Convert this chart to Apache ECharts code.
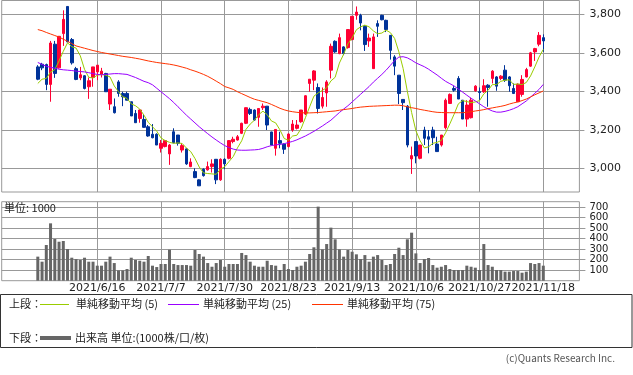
<!DOCTYPE html>
<html><head><meta charset="utf-8">
<script src="https://cdn.jsdelivr.net/npm/echarts/dist/echarts.min.js"></script>
<style>html,body{margin:0;padding:0;background:#fff}#c{width:633px;height:375px}</style>
</head><body><div id="c"></div>
<script>
const dates = ['2021/5/27','2021/5/28','2021/5/31','2021/6/1','2021/6/2','2021/6/3','2021/6/4','2021/6/7','2021/6/8','2021/6/9',
'2021/6/10','2021/6/11','2021/6/14','2021/6/15','2021/6/16','2021/6/17','2021/6/18','2021/6/21','2021/6/22','2021/6/23',
'2021/6/24','2021/6/25','2021/6/28','2021/6/29','2021/6/30','2021/7/1','2021/7/2','2021/7/5','2021/7/6','2021/7/7',
'2021/7/8','2021/7/9','2021/7/12','2021/7/13','2021/7/14','2021/7/15','2021/7/16','2021/7/19','2021/7/20','2021/7/21',
'2021/7/26','2021/7/27','2021/7/28','2021/7/29','2021/7/30','2021/8/2','2021/8/3','2021/8/4','2021/8/5','2021/8/6',
'2021/8/10','2021/8/11','2021/8/12','2021/8/13','2021/8/16','2021/8/17','2021/8/18','2021/8/19','2021/8/20','2021/8/23',
'2021/8/24','2021/8/25','2021/8/26','2021/8/27','2021/8/30','2021/8/31','2021/9/1','2021/9/2','2021/9/3','2021/9/6',
'2021/9/7','2021/9/8','2021/9/9','2021/9/10','2021/9/13','2021/9/14','2021/9/15','2021/9/16','2021/9/17','2021/9/21',
'2021/9/22','2021/9/24','2021/9/27','2021/9/28','2021/9/29','2021/9/30','2021/10/1','2021/10/4','2021/10/5','2021/10/6',
'2021/10/7','2021/10/8','2021/10/11','2021/10/12','2021/10/13','2021/10/14','2021/10/15','2021/10/18','2021/10/19','2021/10/20',
'2021/10/21','2021/10/22','2021/10/25','2021/10/26','2021/10/27','2021/10/28','2021/10/29','2021/11/1','2021/11/2','2021/11/4',
'2021/11/5','2021/11/8','2021/11/9','2021/11/10','2021/11/11','2021/11/12','2021/11/15','2021/11/16','2021/11/17','2021/11/18'];

const open = [3527,3541,3539,3436,3645,3522,3700,3841,3669,3518,
3470,3481,3424,3472,3501,3489,3493,3334,3320,3449,
3389,3389,3346,3285,3259,3254,3216,3177,3177,3104,
3113,3075,3190,3173,3095,3101,3009,2983,2940,2995,
2992,3009,3047,2940,3047,3052,3139,3147,3182,3234,
3306,3303,3265,3315,3323,3189,3104,3144,3126,3113,
3199,3208,3242,3282,3441,3458,3420,3323,3392,3510,
3660,3596,3631,3627,3669,3795,3795,3738,3662,3518,
3752,3795,3769,3691,3579,3484,3358,3323,3049,3139,
3052,3199,3164,3199,3126,3121,3211,3337,3415,3467,
3354,3256,3263,3403,3398,3398,3432,3467,3475,3467,
3510,3475,3415,3346,3384,3475,3531,3605,3645,3679];

const high = [3536,3548,3544,3662,3662,3686,3821,3841,3677,3527,
3527,3484,3472,3527,3536,3522,3496,3411,3363,3458,
3398,3398,3346,3303,3306,3280,3225,3230,3182,3147,
3147,3126,3208,3173,3130,3104,3052,3000,2943,3000,
3035,3047,3047,3052,3052,3147,3164,3173,3237,3316,
3315,3306,3311,3337,3323,3190,3202,3190,3130,3182,
3251,3251,3303,3380,3463,3510,3441,3420,3458,3648,
3665,3700,3634,3721,3790,3841,3803,3743,3700,3700,
3769,3798,3772,3691,3588,3484,3358,3329,3113,3139,
3121,3216,3199,3216,3164,3173,3363,3389,3427,3479,
3354,3354,3367,3432,3420,3463,3437,3510,3479,3484,
3536,3479,3441,3441,3484,3522,3605,3626,3708,3696];

const low = [3458,3510,3406,3346,3470,3518,3636,3655,3539,3458,
3458,3410,3361,3424,3458,3472,3398,3303,3285,3372,
3323,3354,3272,3237,3237,3211,3164,3156,3121,3082,
3109,3018,3130,3118,3082,3018,3006,2949,2909,2957,
2988,2978,2918,2935,2995,3047,3130,3144,3178,3230,
3277,3247,3216,3303,3199,3121,3066,3104,3075,3109,
3190,3202,3237,3277,3398,3406,3285,3311,3320,3467,
3600,3593,3588,3622,3665,3772,3717,3610,3631,3518,
3683,3769,3708,3565,3484,3334,3303,3109,2971,3026,
3047,3121,3078,3121,3087,3113,3202,3334,3398,3360,
3256,3216,3259,3398,3354,3392,3320,3441,3403,3458,
3449,3398,3386,3346,3372,3472,3527,3558,3634,3605];

const close = [3463,3522,3436,3651,3493,3686,3774,3657,3548,3462,
3486,3415,3455,3527,3536,3505,3398,3411,3289,3389,
3372,3354,3272,3237,3303,3213,3168,3159,3121,3130,
3144,3121,3133,3130,3118,3023,3033,2952,2909,2962,
3009,3023,2940,3047,3023,3144,3151,3164,3234,3315,
3285,3251,3311,3323,3225,3121,3202,3130,3099,3178,
3230,3225,3303,3377,3463,3506,3311,3368,3449,3634,
3605,3679,3596,3721,3790,3812,3755,3643,3677,3683,
3738,3772,3721,3613,3531,3389,3341,3121,3066,3064,
3121,3156,3151,3159,3087,3173,3354,3384,3406,3360,
3256,3329,3354,3427,3394,3429,3420,3505,3427,3479,
3458,3429,3389,3437,3462,3513,3600,3622,3691,3662];

const volume = [229,181,340,546,397,371,378,302,219,206,
197,219,181,181,143,143,181,229,168,98,
98,111,219,197,190,181,235,143,130,159,
159,295,159,149,149,149,143,292,254,229,
168,133,168,197,133,159,159,159,264,244,
181,143,133,133,190,149,143,102,159,111,
102,133,143,181,254,318,705,298,349,505,
394,298,229,292,276,251,206,244,181,229,
244,197,149,159,254,314,244,394,457,260,
168,206,216,149,124,133,149,111,102,102,
102,143,133,124,102,349,149,133,102,102,
86,86,92,92,76,86,168,159,168,143];

const ma5 = [3441,3463,3467,3500,3513,3558,3608,3652,3632,3625,
3585,3514,3473,3469,3484,3488,3484,3475,3428,3398,
3372,3363,3335,3325,3308,3276,3239,3216,3193,3158,
3144,3135,3130,3132,3129,3105,3087,3051,3007,2976,
2973,2971,2969,2996,3008,3035,3061,3106,3143,3202,
3230,3250,3279,3297,3279,3246,3236,3200,3155,3146,
3168,3172,3207,3263,3320,3375,3392,3405,3419,3454,
3473,3547,3593,3647,3678,3720,3735,3744,3735,3714,
3699,3703,3718,3705,3675,3605,3519,3399,3290,3196,
3143,3106,3112,3130,3135,3145,3185,3231,3281,3335,
3352,3347,3341,3345,3352,3387,3405,3435,3435,3452,
3458,3460,3436,3438,3435,3446,3480,3527,3578,3618];

const ma25 = [3550,3540,3530,3525,3520,3515,3512,3510,3508,3505,
3503,3501,3497,3492,3488,3486,3488,3490,3492,3492,
3490,3488,3480,3472,3462,3452,3445,3434,3416,3398,
3380,3362,3342,3320,3298,3276,3256,3236,3216,3198,
3180,3163,3147,3132,3118,3108,3100,3095,3094,3094,
3095,3096,3098,3104,3112,3118,3122,3124,3128,3134,
3140,3148,3158,3168,3180,3192,3206,3220,3235,3250,
3270,3290,3308,3325,3345,3365,3385,3405,3425,3448,
3468,3488,3510,3535,3560,3578,3580,3574,3562,3548,
3538,3528,3515,3500,3485,3468,3452,3440,3428,3412,
3396,3380,3364,3350,3335,3320,3308,3298,3292,3292,
3296,3302,3310,3320,3335,3350,3370,3390,3410,3436];

const ma75 = [3721,3715,3706,3698,3690,3682,3671,3660,3648,3636,
3630,3624,3618,3612,3607,3602,3598,3594,3590,3586,
3582,3579,3576,3572,3568,3563,3558,3554,3550,3547,
3544,3541,3537,3532,3526,3520,3512,3505,3497,3488,
3478,3466,3453,3440,3425,3418,3410,3398,3388,3378,
3368,3359,3353,3347,3341,3332,3322,3312,3304,3298,
3294,3291,3289,3288,3288,3289,3290,3292,3294,3296,
3298,3302,3305,3308,3311,3315,3318,3320,3322,3323,
3324,3325,3326,3327,3328,3328,3325,3320,3315,3311,
3306,3302,3298,3294,3291,3290,3289,3289,3289,3289,
3289,3291,3294,3298,3301,3305,3310,3314,3318,3322,
3327,3334,3340,3345,3352,3360,3371,3382,3392,3402];

const labelDates = ['2021/6/16','2021/7/7','2021/7/30','2021/8/23','2021/9/13','2021/10/6','2021/10/27','2021/11/18'];
const priceTicks = [3000,3200,3400,3600,3800];
const volumeTicks = [100,200,300,400,500,600,700];
const maNames = ['単純移動平均 (5)','単純移動平均 (25)','単純移動平均 (75)'];

const PAD_BEFORE = 8, PAD_AFTER = 8;
const C_UP = '#ff0033', C_DOWN = '#003399';
const C_MA5 = '#99cc00', C_MA25 = '#9900ff', C_MA75 = '#ff3300';
const C_VOL = '#666666', C_GRID = '#999999';
const FONT = '"DejaVu Sans","Noto Sans CJK JP",sans-serif';
const JFONT = '"Noto Sans CJK JP","DejaVu Sans",sans-serif';

const cats = [];
for (let k = 0; k < PAD_BEFORE; k++) cats.push('pre' + k);
dates.forEach(d => cats.push(d));
for (let k = 0; k < PAD_AFTER; k++) cats.push('post' + k);
function pad(arr) {
  const out = [];
  for (let k = 0; k < PAD_BEFORE; k++) out.push('-');
  arr.forEach(v => out.push(v));
  for (let k = 0; k < PAD_AFTER; k++) out.push('-');
  return out;
}
const candle = pad(dates.map((d, i) => [open[i], close[i], low[i], high[i]]))
  .map(v => v === '-' ? ['-', '-', '-', '-'] : v);

const showAt = (idx, val) => labelDates.indexOf(val) >= 0;

const chart = echarts.init(document.getElementById('c'), null, {renderer: 'canvas'});
const gl = 1.7, gw = 577.7;
chart.setOption({
  animation: false,
  backgroundColor: '#fff',
  textStyle: {fontFamily: FONT},
  grid: [
    {left: gl, top: 0.5, width: gw, height: 191.5, show: true, borderColor: C_GRID, borderWidth: 1, backgroundColor: 'transparent'},
    {left: gl, top: 201.7, width: gw, height: 79, show: true, borderColor: C_GRID, borderWidth: 1, backgroundColor: 'transparent'}
  ],
  xAxis: [
    {type: 'category', gridIndex: 0, data: cats, boundaryGap: true,
     axisLine: {show: false}, axisTick: {show: false}, axisLabel: {show: false},
     splitLine: {show: true, interval: showAt, alignWithLabel: true, lineStyle: {color: C_GRID, width: 1}}},
    {type: 'category', gridIndex: 1, data: cats, boundaryGap: true,
     axisLine: {show: false}, axisTick: {show: false},
     axisLabel: {show: true, interval: showAt, fontSize: 11, color: '#222', margin: 2, fontFamily: FONT},
     splitLine: {show: true, interval: showAt, alignWithLabel: true, lineStyle: {color: C_GRID, width: 1}}}
  ],
  yAxis: [
    {type: 'value', gridIndex: 0, position: 'right', min: 2877, max: 3872, scale: true,
     axisLine: {show: false},
     axisTick: {show: true, length: 5, customValues: priceTicks, lineStyle: {color: C_GRID}},
     axisLabel: {show: true, customValues: priceTicks, margin: 10, fontSize: 11, color: '#222', fontFamily: FONT,
                 formatter: v => v.toLocaleString('en-US')},
     splitLine: {show: true, lineStyle: {color: C_GRID, width: 1}}},
    {type: 'value', gridIndex: 1, position: 'right', min: 0, max: 752,
     axisLine: {show: false},
     axisTick: {show: true, length: 6, customValues: volumeTicks, lineStyle: {color: C_GRID}},
     axisLabel: {show: true, customValues: volumeTicks, margin: 10, fontSize: 10, color: '#222', fontFamily: FONT},
     splitLine: {show: true, lineStyle: {color: C_GRID, width: 1}}}
  ],
  series: [
    {type: 'candlestick', xAxisIndex: 0, yAxisIndex: 0, data: candle, barWidth: 3, z: 2,
     itemStyle: {color: C_UP, color0: C_DOWN, borderColor: C_UP, borderColor0: C_DOWN, borderWidth: 1}},
    {type: 'line', name: maNames[0], xAxisIndex: 0, yAxisIndex: 0, data: pad(ma5), symbol: 'none', z: 3,
     lineStyle: {color: C_MA5, width: 1}, itemStyle: {color: C_MA5}},
    {type: 'line', name: maNames[1], xAxisIndex: 0, yAxisIndex: 0, data: pad(ma25), symbol: 'none', z: 3,
     lineStyle: {color: C_MA25, width: 1}, itemStyle: {color: C_MA25}},
    {type: 'line', name: maNames[2], xAxisIndex: 0, yAxisIndex: 0, data: pad(ma75), symbol: 'none', z: 3,
     lineStyle: {color: C_MA75, width: 1}, itemStyle: {color: C_MA75}},
    {type: 'bar', name: '出来高', xAxisIndex: 1, yAxisIndex: 1, data: pad(volume), barWidth: 3, z: 2,
     itemStyle: {color: C_VOL}}
  ],
  graphic: [
    {type: 'text', x: 4, y: 208, z: 10, style: {text: '単位: 1000', font: '11px ' + JFONT, fill: '#222', verticalAlign: 'middle'}},
    {type: 'rect', z: 1, shape: {x: 0.5, y: 294.5, width: 631.5, height: 53}, style: {fill: '#fff', stroke: '#333', lineWidth: 1}},
    {type: 'text', x: 9, y: 304, z: 10, style: {text: '上段：', font: '11px ' + JFONT, fill: '#222', verticalAlign: 'middle'}},
    {type: 'line', z: 10, shape: {x1: 40, y1: 304.5, x2: 69, y2: 304.5}, style: {stroke: C_MA5, lineWidth: 1}},
    {type: 'text', x: 76, y: 304, z: 10, style: {text: maNames[0], font: '11px ' + JFONT, fill: '#222', verticalAlign: 'middle'}},
    {type: 'line', z: 10, shape: {x1: 168, y1: 304.5, x2: 199, y2: 304.5}, style: {stroke: C_MA25, lineWidth: 1}},
    {type: 'text', x: 203, y: 304, z: 10, style: {text: maNames[1], font: '11px ' + JFONT, fill: '#222', verticalAlign: 'middle'}},
    {type: 'line', z: 10, shape: {x1: 312, y1: 304.5, x2: 343, y2: 304.5}, style: {stroke: C_MA75, lineWidth: 1}},
    {type: 'text', x: 347, y: 304, z: 10, style: {text: maNames[2], font: '11px ' + JFONT, fill: '#222', verticalAlign: 'middle'}},
    {type: 'text', x: 9, y: 338, z: 10, style: {text: '下段：', font: '11px ' + JFONT, fill: '#222', verticalAlign: 'middle'}},
    {type: 'line', z: 10, shape: {x1: 40, y1: 338, x2: 71, y2: 338}, style: {stroke: C_VOL, lineWidth: 4}},
    {type: 'text', x: 75, y: 338, z: 10, style: {text: '出来高 単位:(1000株/口/枚)', font: '11px ' + JFONT, fill: '#222', verticalAlign: 'middle'}},
    {type: 'text', x: 615, y: 358, z: 10, style: {text: '(c)Quants Research Inc.', font: '10px ' + JFONT, fill: '#555', align: 'right', verticalAlign: 'middle'}}
  ]
});
</script>
</body></html>
